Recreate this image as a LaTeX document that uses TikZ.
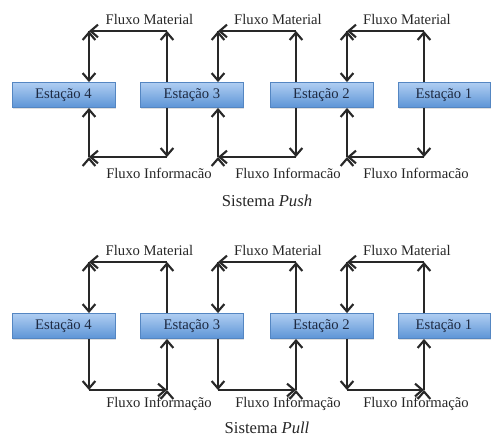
\documentclass[tikz,border=0pt]{standalone}
\usepackage{fontspec}
\setmainfont{Liberation Serif}
\usepackage{tikz}
\usetikzlibrary{arrows.meta, shadows}
\definecolor{boxtop}{RGB}{176,206,242}
\definecolor{boxbot}{RGB}{92,148,214}
\definecolor{boxline}{RGB}{84,134,194}
\definecolor{boxtext}{RGB}{30,42,66}
\definecolor{flowline}{RGB}{40,40,40}
\tikzstyle{station} = [
    rectangle, draw=boxline, line width=0.4pt, top color=boxtop,
    bottom color=boxbot, minimum width=77.25pt, minimum height=19pt,
    text=boxtext, font=\fontsize{11}{13}\selectfont,
    drop shadow={opacity=0.25, shadow xshift=0.6pt, shadow yshift=-0.9pt}
]
\tikzstyle{flow} = [-{Straight Barb[length=5.5pt, width=9.5pt]}, line width=1.6pt,
    draw=flowline]
\tikzstyle{flowtext} = [font=\fontsize{11}{13}\selectfont, text=black!85]
\tikzstyle{caption} = [font=\fontsize{12.5}{15}\selectfont, text=black!85]

\begin{document}
\begin{tikzpicture}[x=0.75pt, y=-0.75pt]
        \useasboundingbox (0,0) rectangle (491,439);
        \clip (0,0) rectangle (491,439);

        % Sistema Push
        \node[station] (ea4) at (63.5,95) {Estação 4};
        \node[station] (ea3) at (192,95) {Estação 3};
        \node[station] (ea2) at (321.5,95) {Estação 2};
        \node[station, minimum width=69pt] (ea1) at (444,95) {Estação 1};

        \coordinate (pt1l) at (89,31);  \coordinate (pt1r) at (167,31);
        \coordinate (pt2l) at (218,31); \coordinate (pt2r) at (296,31);
        \coordinate (pt3l) at (347,31); \coordinate (pt3r) at (424,31);
        \coordinate (pb1l) at (89,157);  \coordinate (pb1r) at (167,157);
        \coordinate (pb2l) at (218,157); \coordinate (pb2r) at (296,157);
        \coordinate (pb3l) at (347,157); \coordinate (pb3r) at (424,157);

        \node[flowtext] (pm1) at (149.5,19) {Fluxo Material};
        \node[flowtext] (pm2) at (278,19) {Fluxo Material};
        \node[flowtext] (pm3) at (407,19) {Fluxo Material};
        \node[flowtext] (pi1) at (159,173) {Fluxo Informacão};
        \node[flowtext] (pi2) at (288,173) {Fluxo Informacão};
        \node[flowtext] (pi3) at (416,173) {Fluxo Informacão};
        \node[caption] (push) at (267,201) {Sistema \textit{Push}};

        % material goes back along the top
        \draw[flow] (ea3.north -| pt1r) edge (pt1r) (pt1r) edge (pt1l)
            (pt1l) edge (ea4.north -| pt1l);
        \draw[flow] (ea2.north -| pt2r) edge (pt2r) (pt2r) edge (pt2l)
            (pt2l) edge (ea3.north -| pt2l);
        \draw[flow] (ea1.north -| pt3r) edge (pt3r) (pt3r) edge (pt3l)
            (pt3l) edge (ea2.north -| pt3l);
        % information goes the same way
        \draw[flow] (ea3.south -| pb1r) edge (pb1r) (pb1r) edge (pb1l)
            (pb1l) edge (ea4.south -| pb1l);
        \draw[flow] (ea2.south -| pb2r) edge (pb2r) (pb2r) edge (pb2l)
            (pb2l) edge (ea3.south -| pb2l);
        \draw[flow] (ea1.south -| pb3r) edge (pb3r) (pb3r) edge (pb3l)
            (pb3l) edge (ea2.south -| pb3l);

        % Sistema Pull
        \node[station] (eb4) at (63.5,326) {Estação 4};
        \node[station] (eb3) at (192,326) {Estação 3};
        \node[station] (eb2) at (321.5,326) {Estação 2};
        \node[station, minimum width=69pt] (eb1) at (444,326) {Estação 1};

        \coordinate (qt1l) at (89,262);  \coordinate (qt1r) at (167,262);
        \coordinate (qt2l) at (218,262); \coordinate (qt2r) at (296,262);
        \coordinate (qt3l) at (347,262); \coordinate (qt3r) at (424,262);
        \coordinate (qb1l) at (89,390);  \coordinate (qb1r) at (167,390);
        \coordinate (qb2l) at (218,390); \coordinate (qb2r) at (296,390);
        \coordinate (qb3l) at (347,390); \coordinate (qb3r) at (424,390);

        \node[flowtext] (qm1) at (149.5,250) {Fluxo Material};
        \node[flowtext] (qm2) at (278,250) {Fluxo Material};
        \node[flowtext] (qm3) at (407,250) {Fluxo Material};
        \node[flowtext] (qi1) at (159,404) {Fluxo Informação};
        \node[flowtext] (qi2) at (288,404) {Fluxo Informação};
        \node[flowtext] (qi3) at (416,404) {Fluxo Informação};
        \node[caption] (pull) at (267,428) {Sistema \textit{Pull}};

        % material still goes back along the top
        \draw[flow] (eb3.north -| qt1r) edge (qt1r) (qt1r) edge (qt1l)
            (qt1l) edge (eb4.north -| qt1l);
        \draw[flow] (eb2.north -| qt2r) edge (qt2r) (qt2r) edge (qt2l)
            (qt2l) edge (eb3.north -| qt2l);
        \draw[flow] (eb1.north -| qt3r) edge (qt3r) (qt3r) edge (qt3l)
            (qt3l) edge (eb2.north -| qt3l);
        % information goes forward along the bottom
        \draw[flow] (eb4.south -| qb1l) edge (qb1l) (qb1l) edge (qb1r)
            (qb1r) edge (eb3.south -| qb1r);
        \draw[flow] (eb3.south -| qb2l) edge (qb2l) (qb2l) edge (qb2r)
            (qb2r) edge (eb2.south -| qb2r);
        \draw[flow] (eb2.south -| qb3l) edge (qb3l) (qb3l) edge (qb3r)
            (qb3r) edge (eb1.south -| qb3r);
    \end{tikzpicture}
\end{document}
